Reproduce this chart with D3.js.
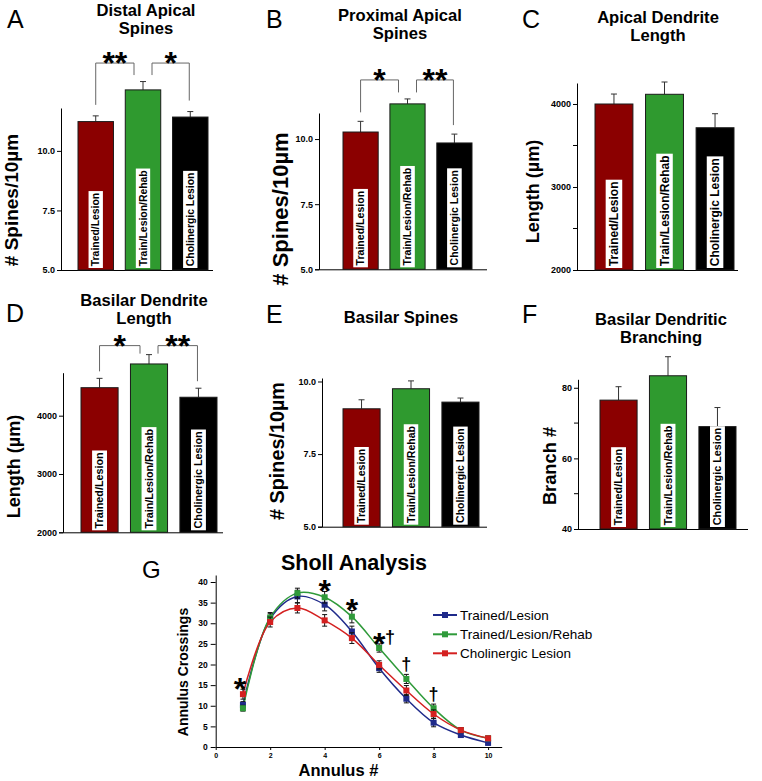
<!DOCTYPE html>
<html><head><meta charset="utf-8">
<script src="https://cdn.jsdelivr.net/npm/d3@7"></script>
<style>
html,body{margin:0;padding:0;background:#fff;}
svg{display:block;font-family:"Liberation Sans", Arial, sans-serif;}
</style></head><body>
<svg id="chart" width="762" height="781"></svg>
<script>
// ---------------- DATA ----------------
const groups = ["Trained/Lesion", "Train/Lesion/Rehab", "Cholinergic Lesion"];
const barColors = ["#8b0000", "#2f9a2f", "#000000"];

const distalMean = [11.23, 12.56, 11.42];
const distalErr = [0.24, 0.35, 0.23];
const proximalMean = [10.27, 11.35, 9.85];
const proximalErr = [0.41, 0.19, 0.34];
const apicalLenMean = [4000, 4117, 3714];
const apicalLenErr = [120, 148, 169];
const basilarLenMean = [4480, 4887, 4316];
const basilarLenErr = [160, 160, 155];
const basilarSpineMean = [9.06, 9.75, 9.29];
const basilarSpineErr = [0.31, 0.27, 0.14];
const branchMean = [76.5, 83.4, 69.0];
const branchErr = [3.8, 5.4, 5.4];

const spineTicks = [5, 7.5, 10];
const lengthTicks = [2000, 3000, 4000];
const lengthMinor = [2500, 3500];
const branchTicks = [40, 60, 80];
const branchMinor = [50, 70];

const sigA = [{a: 0, b: 1, label: "**"}, {a: 1, b: 2, label: "*"}];
const sigB = [{a: 0, b: 1, label: "*"}, {a: 1, b: 2, label: "**"}];
const sigD = [{a: 0, b: 1, label: "*"}, {a: 1, b: 2, label: "**"}];

const annulus = [1, 2, 3, 4, 5, 6, 7, 8, 9, 10];
const shollTrainedLesion = [10.2, 31.1, 36.5, 34.5, 28.0, 19.1, 11.7, 5.9, 2.9, 1.0];
const shollTrainedLesionErr = [0.8, 1.2, 1.5, 1.5, 1.3, 1.0, 1.0, 1.0, 0.6, 0.5];
const shollRehab = [9.4, 31.4, 37.3, 36.3, 31.6, 24.0, 16.5, 9.4, 4.1, 2.1];
const shollRehabErr = [0.7, 1.2, 1.2, 1.4, 1.5, 1.0, 1.1, 1.0, 0.6, 0.5];
const shollCholinergic = [12.8, 30.3, 33.7, 30.7, 26.4, 19.9, 13.7, 8.0, 4.1, 2.1];
const shollCholinergicErr = [1.2, 1.2, 1.2, 1.4, 1.3, 1.0, 1.2, 1.0, 0.6, 0.5];
const shollNames = ["Trained/Lesion", "Trained/Lesion/Rehab", "Cholinergic Lesion"];
const shollColors = ["#1f2a8a", "#2f9a3a", "#d42020"];
const shollYTicks = [0, 5, 10, 15, 20, 25, 30, 35, 40];
const shollXTicks = [0, 2, 4, 6, 8, 10];
const starAnnuli = [1, 4, 5, 6];
const daggerAnnuli = [6, 7, 8];

// ---------------- LAYOUT ----------------
const FONT = '"Liberation Sans", Arial, sans-serif';
const TITLE_FS = 16.6;
const TITLE_LS = 18.6;
const STAR_FS = 32;
const svg = d3.select("#chart");
svg.append("rect").attr("width", 762).attr("height", 781).attr("fill", "#fff");

const panels = [
  {letter: "A", lx: 7, ly: 28, title: ["Distal Apical", "Spines"], tx: 146, ty: 15.5,
   mean: distalMean, err: distalErr, domain: [5, 11.8], yRange: [270, 108], barRange: [78, 208],
   axisX: 61, axisEnd: 213, ticks: spineTicks, minor: [], fmt: ".1f",
   ylab: "# Spines/10µm", ylx: 18, yly: 200, ylfs: 19, lblfs: 10.4,
   sig: sigA, brTop: 18.5, legOuter: 11, legInner: 6.5},
  {letter: "B", lx: 266, ly: 28, title: ["Proximal Apical", "Spines"], tx: 400, ty: 20.5,
   mean: proximalMean, err: proximalErr, domain: [5, 11.0], yRange: [269.3, 113], barRange: [343, 472],
   axisX: 319, axisEnd: 487, ticks: spineTicks, minor: [], fmt: ".1f",
   ylab: "# Spines/10µm", ylx: 288, yly: 209, ylfs: 22, lblfs: 10.6,
   sig: sigB, brTop: 19, legOuter: 9, legInner: 6.5},
  {letter: "C", lx: 522, ly: 28, title: ["Apical Dendrite", "Length"], tx: 658, ty: 22.5,
   mean: apicalLenMean, err: apicalLenErr, domain: [2000, 4253], yRange: [270, 83], barRange: [595, 734],
   axisX: 577, axisEnd: 738, ticks: lengthTicks, minor: lengthMinor, fmt: "d",
   ylab: "Length (µm)", ylx: 539, yly: 191.5, ylfs: 18, lblfs: 12,
   sig: []},
  {letter: "D", lx: 6, ly: 322, title: ["Basilar Dendrite", "Length"], tx: 144, ty: 305.5,
   mean: basilarLenMean, err: basilarLenErr, domain: [2000, 4737], yRange: [532.3, 372.7], barRange: [81, 217],
   axisX: 63, axisEnd: 223, ticks: lengthTicks, minor: [], fmt: "d",
   ylab: "Length (µm)", ylx: 20, yly: 466.5, ylfs: 18, lblfs: 10.8,
   sig: sigD, brTop: 9, legOuter: 7, legInner: 1},
  {letter: "E", lx: 266, ly: 323, title: ["Basilar Spines"], tx: 401, ty: 323,
   mean: basilarSpineMean, err: basilarSpineErr, domain: [5, 10.12], yRange: [526.7, 378], barRange: [343, 479],
   axisX: 322, axisEnd: 487, ticks: spineTicks, minor: [], fmt: ".1f",
   ylab: "# Spines/10µm", ylx: 284, yly: 451, ylfs: 19.8, lblfs: 10.5,
   sig: []},
  {letter: "F", lx: 522, ly: 323, title: ["Basilar Dendritic", "Branching"], tx: 661, ty: 324.5,
   mean: branchMean, err: branchErr, domain: [40, 82.4], yRange: [529, 379.3], barRange: [600, 736],
   axisX: 578, axisEnd: 748, ticks: branchTicks, minor: branchMinor, fmt: "d",
   ylab: "Branch #", ylx: 556, yly: 466, ylfs: 18.3, lblfs: 10.8,
   sig: []}
];

function styleAxis(sel, fs) {
  sel.attr("font-family", FONT).attr("font-size", fs).attr("font-weight", "bold");
  sel.select(".domain").attr("stroke", "#000");
  sel.selectAll(".tick line").attr("stroke", "#000");
  sel.selectAll(".tick text").attr("fill", "#000");
}

function barPanel(p) {
  const g = svg.append("g");
  const y = d3.scaleLinear().domain(p.domain).range(p.yRange);
  const x = d3.scaleBand().domain(groups).range(p.barRange).paddingInner(0.25).paddingOuter(0);
  const bw = x.bandwidth();
  const yb = p.yRange[0];

  g.append("text").attr("x", p.lx).attr("y", p.ly).attr("font-family", FONT)
    .attr("font-size", 25).attr("fill", "#000").text(p.letter);
  p.title.forEach((t, i) => {
    g.append("text").attr("x", p.tx).attr("y", p.ty + i * TITLE_LS).attr("text-anchor", "middle")
      .attr("font-family", FONT).attr("font-weight", "bold").attr("font-size", TITLE_FS).text(t);
  });
  g.append("text").attr("transform", `translate(${p.ylx},${p.yly}) rotate(-90)`)
    .attr("text-anchor", "middle").attr("font-family", FONT).attr("font-weight", "bold")
    .attr("font-size", p.ylfs).text(p.ylab);

  const ya = g.append("g").attr("transform", `translate(${p.axisX},0)`)
    .call(d3.axisLeft(y).tickValues(p.ticks).tickFormat(d3.format(p.fmt)).tickSize(4).tickPadding(2).tickSizeOuter(0));
  styleAxis(ya, 9);
  p.minor.forEach(v => {
    g.append("line").attr("x1", p.axisX - 4).attr("x2", p.axisX).attr("y1", y(v)).attr("y2", y(v)).attr("stroke", "#000");
  });
  g.append("line").attr("x1", p.axisX - 4).attr("x2", p.axisEnd).attr("y1", yb + 0.5).attr("y2", yb + 0.5)
    .attr("stroke", "#000");

  const data = groups.map((k, i) => ({k, i, m: p.mean[i], e: p.err[i]}));
  data.forEach(d => {
    const cx = x(d.k) + bw / 2;
    g.append("line").attr("x1", cx).attr("x2", cx).attr("y1", y(d.m)).attr("y2", y(d.m + d.e)).attr("stroke", "#333");
    g.append("line").attr("x1", cx - 3).attr("x2", cx + 3).attr("y1", y(d.m + d.e)).attr("y2", y(d.m + d.e)).attr("stroke", "#333");
  });
  g.selectAll("rect.bar").data(data).enter().append("rect").attr("class", "bar")
    .attr("x", d => x(d.k)).attr("y", d => y(d.m)).attr("width", bw).attr("height", d => yb - y(d.m))
    .attr("fill", d => barColors[d.i]).attr("stroke", "#1a1a1a").attr("stroke-width", 1);
  data.forEach(d => {
    const cx = x(d.k) + bw / 2;
    const lg = g.append("g").attr("transform", `translate(${cx},${yb - 2}) rotate(-90)`);
    const box = lg.append("rect").attr("fill", "#fff");
    const t = lg.append("text").attr("x", 1.8).attr("y", 0).attr("dy", "0.36em")
      .attr("font-family", FONT).attr("font-weight", "bold").attr("font-size", p.lblfs).attr("fill", "#000").text(d.k);
    const len = t.node().getComputedTextLength();
    const bh = p.lblfs * 1.38;
    box.attr("x", 0).attr("y", -bh / 2).attr("width", len + 3.6).attr("height", bh);
  });
  if (p.sig.length) {
    const tops = data.map(d => y(d.m + d.e));
    const brY = d3.min(tops) - p.brTop;
    p.sig.forEach(s => {
      const ca = x(groups[s.a]) + bw / 2, cb = x(groups[s.b]) + bw / 2;
      let x1, x2;
      if (s.a === 0) { x1 = ca; x2 = cb - 9; } else { x1 = ca + 9; x2 = cb - 1; }
      const y1 = tops[s.a] - (s.a === 1 ? p.legInner : p.legOuter);
      const y2 = tops[s.b] - (s.b === 1 ? p.legInner : p.legOuter);
      g.append("path").attr("d", `M${x1},${y1}V${brY}H${x2}V${y2}`)
        .attr("fill", "none").attr("stroke", "#666").attr("stroke-width", 1);
      g.append("text").attr("x", (x1 + x2) / 2).attr("y", brY - 7 + 0.56 * STAR_FS).attr("text-anchor", "middle")
        .attr("font-family", FONT).attr("font-weight", "bold").attr("font-size", STAR_FS).text(s.label);
    });
  }
}
panels.forEach(barPanel);

// ---------------- SHOLL (G) ----------------
(function () {
  const g = svg.append("g");
  const sx = d3.scaleLinear().domain([0, 10.5]).range([215.7, 501.7]);
  const sy = d3.scaleLinear().domain([0, 41.7]).range([747, 575]);

  g.append("text").attr("x", 142).attr("y", 578).attr("font-family", FONT).attr("font-size", 24).text("G");
  g.append("text").attr("x", 354).attr("y", 569.5).attr("text-anchor", "middle").attr("font-family", FONT)
    .attr("font-weight", "bold").attr("font-size", 21.5).text("Sholl Analysis");
  g.append("text").attr("x", 338.5).attr("y", 776).attr("text-anchor", "middle").attr("font-family", FONT)
    .attr("font-weight", "bold").attr("font-size", 16.5).text("Annulus #");
  g.append("text").attr("transform", "translate(188,672) rotate(-90)").attr("text-anchor", "middle")
    .attr("font-family", FONT).attr("font-weight", "bold").attr("font-size", 14).text("Annulus Crossings");

  const ya = g.append("g").attr("transform", "translate(215.7,0)")
    .call(d3.axisLeft(sy).tickValues(shollYTicks).tickSize(5).tickPadding(3).tickSizeOuter(0));
  styleAxis(ya, 8.5);
  const xa = g.append("g").attr("transform", "translate(0,747)")
    .call(d3.axisBottom(sx).tickValues(shollXTicks).tickSize(3).tickPadding(3).tickSizeOuter(0));
  styleAxis(xa, 7);

  const series = [
    {v: shollTrainedLesion, e: shollTrainedLesionErr},
    {v: shollRehab, e: shollRehabErr},
    {v: shollCholinergic, e: shollCholinergicErr}
  ].map((s, i) => ({name: shollNames[i], color: shollColors[i],
    pts: annulus.map((a, j) => ({a, v: s.v[j], e: s.e[j]}))}));

  const line = d3.line().x(d => sx(d.a)).y(d => sy(d.v)).curve(d3.curveCatmullRom.alpha(0.5));
  series.forEach(s => {
    g.append("path").attr("d", line(s.pts)).attr("fill", "none").attr("stroke", s.color).attr("stroke-width", 1.5);
  });
  series.forEach(s => {
    s.pts.forEach(d => {
      const cx = sx(d.a);
      g.append("line").attr("x1", cx).attr("x2", cx).attr("y1", sy(d.v - d.e)).attr("y2", sy(d.v + d.e)).attr("stroke", "#111");
      [d.v - d.e, d.v + d.e].forEach(w => g.append("line").attr("x1", cx - 2.5).attr("x2", cx + 2.5)
        .attr("y1", sy(w)).attr("y2", sy(w)).attr("stroke", "#111"));
      g.append("rect").attr("x", cx - 3).attr("y", sy(d.v) - 3).attr("width", 6).attr("height", 6)
        .attr("fill", s.color);
    });
  });

  function errTop(a) {
    const j = annulus.indexOf(a);
    return d3.min(series, s => sy(s.pts[j].v + s.pts[j].e));
  }
  starAnnuli.forEach(a => {
    g.append("text").attr("x", sx(a) - (a === 1 ? 3 : 0)).attr("y", errTop(a) - 7 + 0.56 * STAR_FS).attr("text-anchor", "middle")
      .attr("font-family", FONT).attr("font-weight", "bold").attr("font-size", STAR_FS).text("*");
  });
  daggerAnnuli.forEach(a => {
    const withStar = starAnnuli.includes(a);
    g.append("text").attr("x", sx(a) + (withStar ? 11 : 0)).attr("y", errTop(a) - (withStar ? 1 : 4))
      .attr("text-anchor", "middle").attr("font-family", FONT).attr("font-weight", "bold")
      .attr("font-size", 18).text("†");
  });

  const legY = [615, 634.3, 653.3];
  series.forEach((s, i) => {
    g.append("line").attr("x1", 433).attr("x2", 457).attr("y1", legY[i]).attr("y2", legY[i])
      .attr("stroke", s.color).attr("stroke-width", 2);
    g.append("rect").attr("x", 442).attr("y", legY[i] - 3).attr("width", 6).attr("height", 6).attr("fill", s.color);
    g.append("text").attr("x", 460).attr("y", legY[i]).attr("dy", "0.36em").attr("font-family", FONT)
      .attr("font-size", 13.5).text(s.name);
  });
})();
</script>
</body></html>
